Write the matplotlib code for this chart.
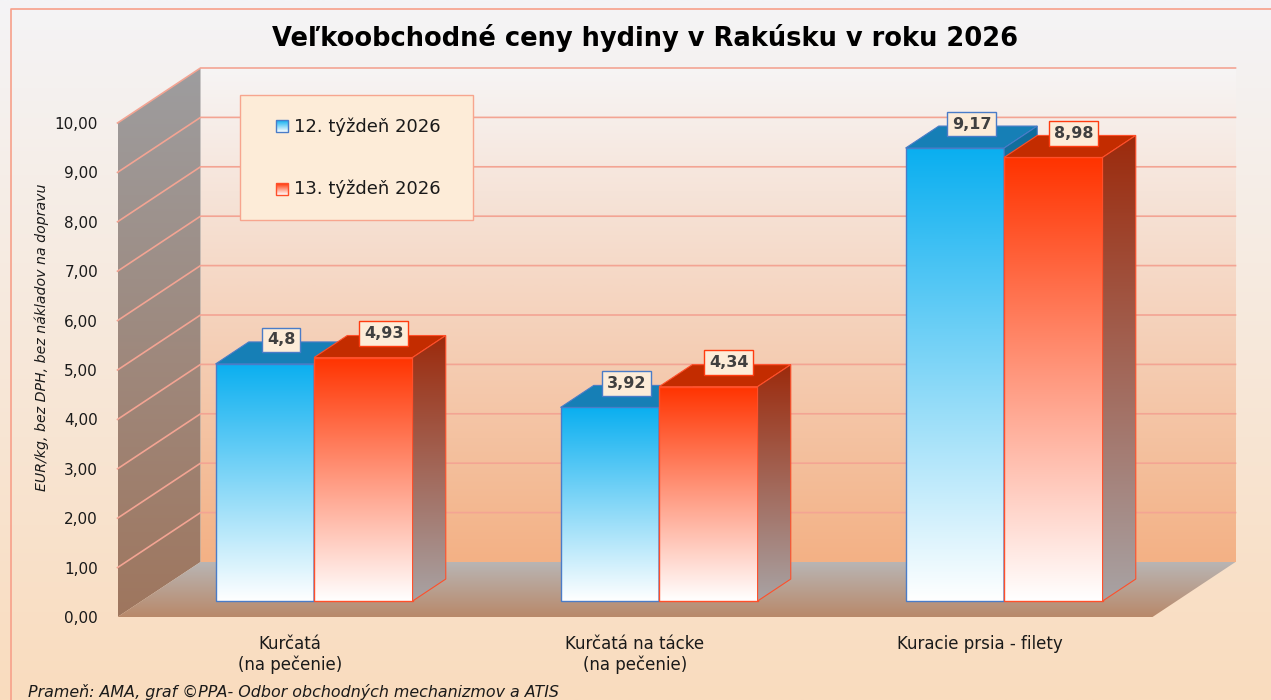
import numpy as np
import matplotlib as mpl
mpl.use("Agg")
import matplotlib.pyplot as plt
from matplotlib.colors import to_rgb
from matplotlib.patches import Polygon, Rectangle

# Data
categories = ["Kurčatá\n(na pečenie)", "Kurčatá na tácke\n(na pečenie)", "Kuracie prsia - filety"]
series_names = ["12. týždeň 2026", "13. týždeň 2026"]
week12 = [4.80, 3.92, 9.17]
week13 = [4.93, 4.34, 8.98]
value_labels12 = ["4,8", "3,92", "9,17"]
value_labels13 = ["4,93", "4,34", "8,98"]
y_ticks = list(range(0, 11))

title = "Veľkoobchodné ceny hydiny v Rakúsku v roku 2026"
y_label = "EUR/kg, bez DPH, bez nákladov na dopravu"
source = "Prameň: AMA, graf ©PPA- Odbor obchodných mechanizmov a ATIS"

# layout (pixels of the 1271x700 picture)
W_PX, H_PX = 1271, 700
X0_PX, CAT_PX = 290, 345      # category 0 centre on the front plane, category pitch
Y0_PX, UNIT_PX = 617, 49.4    # value 0 on the front plane, pixels per EUR
DX = 83 / CAT_PX              # wall depth offset, data units
DY = 55 / UNIT_PX
D0, D1 = 0.29, 0.69           # bar depth range
BAR_W = 98.5 / CAT_PX
VMAX = 10


def P(x, v, d):
    return (x + d * DX, v + d * DY)


def px2data(xp, yp):
    return ((xp - X0_PX) / CAT_PX, (Y0_PX - yp) / UNIT_PX)


fig = plt.figure(figsize=(W_PX / 100, H_PX / 100), dpi=100)
ax = fig.add_axes([0, 0, 1, 1])
ax.set_facecolor("none")
for s in ax.spines.values():
    s.set_visible(False)

xlim = (px2data(0, 0)[0], px2data(W_PX, 0)[0])
ylim = (px2data(0, H_PX)[1], px2data(0, 0)[1])

zc = [1]


def nz():
    zc[0] += 1
    return zc[0]


def grad_poly(verts, c_top, c_bot, ec="none", lw=0.0):
    verts = np.asarray(verts)
    x0, y0 = verts.min(axis=0)
    x1, y1 = verts.max(axis=0)
    t = np.linspace(0, 1, 256)[:, None]
    arr = (1 - t) * np.array(to_rgb(c_bot)) + t * np.array(to_rgb(c_top))
    arr = np.repeat(arr[:, None, :], 2, axis=1)
    z = nz()
    poly = Polygon(verts, closed=True, facecolor="none", edgecolor=ec, linewidth=lw, zorder=z + 0.5)
    ax.add_patch(poly)
    im = ax.imshow(arr, extent=(x0, x1, y0, y1), origin="lower", aspect="auto",
                   interpolation="bilinear", zorder=z)
    im.set_clip_path(poly)
    return poly


def flat_poly(verts, fc, ec="none", lw=0.0):
    ax.add_patch(Polygon(verts, closed=True, facecolor=fc, edgecolor=ec, linewidth=lw, zorder=nz()))


# figure background
bg = np.linspace(0, 1, 256)[:, None]
bg_arr = (1 - bg) * np.array(to_rgb("#fadcbe")) + bg * np.array(to_rgb("#f4f4f6"))
ax.imshow(np.repeat(bg_arr[:, None, :], 2, axis=1), extent=(*xlim, *ylim), origin="lower",
          aspect="auto", zorder=0)
bx, by = px2data(11, 9)
ax.plot([bx, bx, xlim[1] + 0.1], [ylim[0] - 0.5, by, by], color="#f7a08a", lw=1.2, zorder=1)

xl, xr = -0.5, len(categories) - 0.5

# walls and floor
grad_poly([P(xl, 0, 1), P(xr, 0, 1), P(xr, VMAX, 1), P(xl, VMAX, 1)], "#f7f5f5", "#f3b185")
grad_poly([P(xl, 0, 0), P(xl, 0, 1), P(xl, VMAX, 1), P(xl, VMAX, 0)], "#9d9d9f", "#9f765e")
grid_z = nz()
for v in y_ticks[1:]:
    xs, ys = zip(P(xl, v, 0), P(xl, v, 1), P(xr, v, 1))
    ax.plot(xs, ys, color="#f3a493", lw=1.2, zorder=grid_z)
grad_poly([P(xl, 0, 0), P(xr, 0, 0), P(xr, 0, 1), P(xl, 0, 1)], "#b8b5b4", "#b9896a")

# bars
blue = dict(front="#0aaff0", top="#167fb6", side_top="#0d6c9c", side_bot="#a2a9b0", edge="#4a7cc8")
red = dict(front="#ff3300", top="#c32c00", side_top="#9c2a0c", side_bot="#a8a3a4", edge="#ff4f2a")

for i in range(len(categories)):
    for k, (vals, sty) in enumerate([(week12, blue), (week13, red)]):
        v = vals[i]
        xa = i - BAR_W + k * BAR_W
        xb = xa + BAR_W
        grad_poly([P(xa, 0, D0), P(xb, 0, D0), P(xb, v, D0), P(xa, v, D0)],
                  sty["front"], "#ffffff", ec=sty["edge"], lw=1.0)
        flat_poly([P(xa, v, D0), P(xb, v, D0), P(xb, v, D1), P(xa, v, D1)],
                  sty["top"], ec=sty["edge"], lw=0.8)
        grad_poly([P(xb, 0, D0), P(xb, 0, D1), P(xb, v, D1), P(xb, v, D0)],
                  sty["side_top"], sty["side_bot"], ec=sty["edge"], lw=0.8)

# value labels
label_z = nz() + 50
for i in range(len(categories)):
    for k, (vals, labs, ec, dxp) in enumerate([(week12, value_labels12, "#4a7cc8", 0),
                                               (week13, value_labels13, "#ff3c10", 4)]):
        xa = i - BAR_W + k * BAR_W
        cx, cy = P(xa + BAR_W / 2, vals[i], (D0 + D1) / 2)
        ax.annotate(labs[i], xy=(cx, cy), xytext=(dxp, 13), textcoords="offset pixels",
                    ha="center", va="center", fontsize=11.5, fontweight="bold", color="#404040",
                    bbox=dict(boxstyle="square,pad=0.3", fc="#fdecd8", ec=ec, lw=1.0),
                    zorder=label_z)

# legend
lx0, ly0 = px2data(240, 220)
lx1, ly1 = px2data(473, 95)
ax.add_patch(Rectangle((lx0, ly0), lx1 - lx0, ly1 - ly0, fc="#fdecd8", ec="#f7a58e", lw=1.0,
                       zorder=label_z))
for name, sty, yp in [(series_names[0], blue, 126.5), (series_names[1], red, 189)]:
    sx0, sy0 = px2data(276, yp + 6)
    sx1, sy1 = px2data(288, yp - 6)
    t = np.linspace(0, 1, 64)[:, None]
    arr = (1 - t) * np.array(to_rgb("#ffffff")) + t * np.array(to_rgb(sty["front"]))
    sq = Rectangle((sx0, sy0), sx1 - sx0, sy1 - sy0, fc="none", ec=sty["edge"], lw=1.0,
                   zorder=label_z + 2)
    ax.add_patch(sq)
    im = ax.imshow(np.repeat(arr[:, None, :], 2, axis=1), extent=(sx0, sx1, sy0, sy1),
                   origin="lower", aspect="auto", zorder=label_z + 1)
    im.set_clip_path(sq)
    tx, ty = px2data(294, yp)
    ax.text(tx, ty, name, ha="left", va="center", fontsize=13, color="#1a1a1a", zorder=label_z + 2)

# axes ticks
ax.set_yticks(y_ticks)
ax.set_yticklabels([f"{v:.2f}".replace(".", ",") for v in y_ticks], fontsize=11, color="#1a1a1a")
ax.tick_params(axis="y", length=0, pad=-98 * 0.72)
ax.set_xticks(range(len(categories)))
ax.set_xticklabels(categories, fontsize=12, color="#1a1a1a", linespacing=1.18)
ax.tick_params(axis="x", length=0, pad=-65 * 0.72)

ax.set_xlim(*xlim)
ax.set_ylim(*ylim)

fig.text(645 / W_PX, 1 - 38 / H_PX, title, ha="center", va="center", fontsize=18.5,
         fontweight="bold", color="#000000")
fig.text(42 / W_PX, 1 - 337 / H_PX, y_label, ha="center", va="center", rotation=90,
         fontsize=10.2, style="italic", color="#1a1a1a")
fig.text(28 / W_PX, 1 - 692 / H_PX, source, ha="left", va="center", fontsize=11.4,
         style="italic", color="#1a1a1a")

fig.savefig("out.png", dpi=100)
